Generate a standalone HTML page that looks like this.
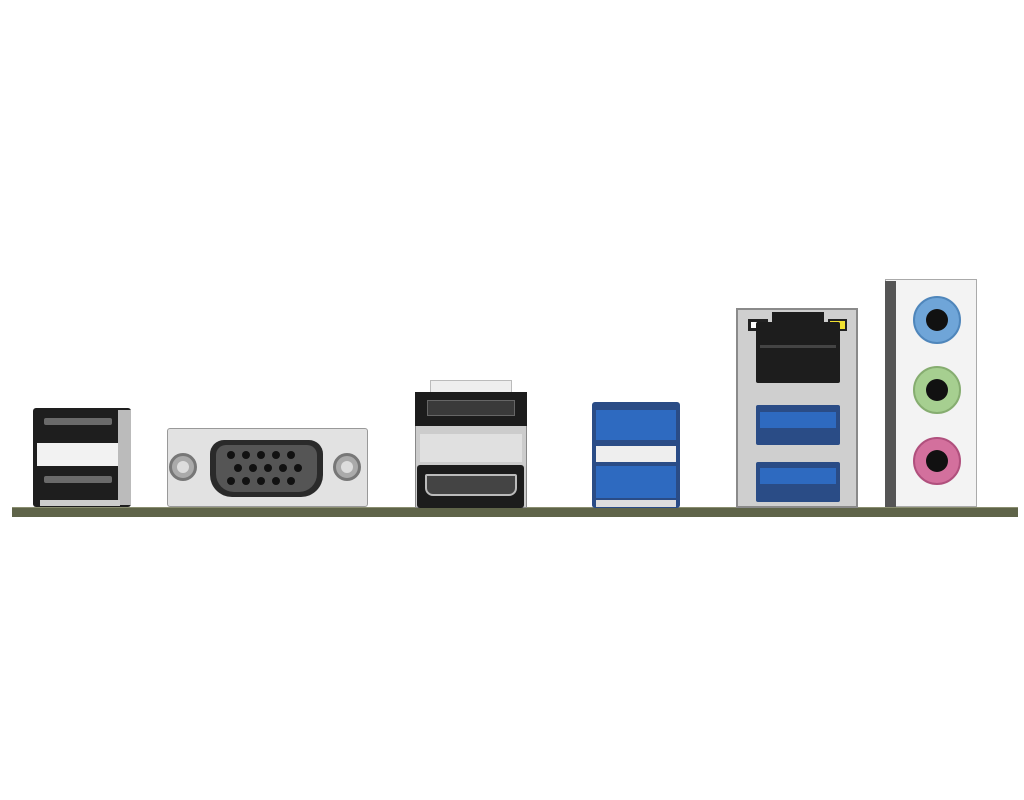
<!DOCTYPE html><html><head><style>
body{margin:0;width:1024px;height:800px;background:#fff;position:relative;overflow:hidden;font-family:"Liberation Sans",sans-serif}
div{position:absolute;box-sizing:border-box}
.pin{width:8px;height:8px;border-radius:50%;background:#111}
</style></head><body>
<!-- PCB -->
<div style="left:12px;top:507px;width:1006px;height:10px;background:#5f6449;border-top:1px solid #8a8e70"></div>

<!-- USB2 stack -->
<div style="left:33px;top:408px;width:98px;height:99px;background:#1e1e1e;border-radius:3px"></div>
<div style="left:118px;top:410px;width:13px;height:95px;background:#bbb"></div>
<div style="left:37px;top:443px;width:81px;height:23px;background:#f2f2f2"></div>
<div style="left:44px;top:418px;width:68px;height:7px;background:#6a6a6a;border-radius:2px"></div>
<div style="left:44px;top:476px;width:68px;height:7px;background:#6a6a6a;border-radius:2px"></div>
<div style="left:40px;top:500px;width:80px;height:6px;background:#ccc"></div>

<!-- VGA -->
<div style="left:167px;top:428px;width:201px;height:79px;background:#e2e2e2;border:1px solid #999;border-radius:3px"></div>
<div style="left:169px;top:453px;width:28px;height:28px;border-radius:50%;background:#aaa;border:3px solid #777"></div>
<div style="left:177px;top:461px;width:12px;height:12px;border-radius:50%;background:#ddd"></div>
<div style="left:333px;top:453px;width:28px;height:28px;border-radius:50%;background:#aaa;border:3px solid #777"></div>
<div style="left:341px;top:461px;width:12px;height:12px;border-radius:50%;background:#ddd"></div>
<div style="left:210px;top:440px;width:113px;height:57px;background:#2a2a2a;border-radius:14px 14px 22px 22px"></div>
<div style="left:216px;top:445px;width:101px;height:47px;background:#555;border-radius:10px 10px 18px 18px"></div>
<div class="pin" style="left:227px;top:451px"></div><div class="pin" style="left:242px;top:451px"></div><div class="pin" style="left:257px;top:451px"></div><div class="pin" style="left:272px;top:451px"></div><div class="pin" style="left:287px;top:451px"></div>
<div class="pin" style="left:234px;top:464px"></div><div class="pin" style="left:249px;top:464px"></div><div class="pin" style="left:264px;top:464px"></div><div class="pin" style="left:279px;top:464px"></div><div class="pin" style="left:294px;top:464px"></div>
<div class="pin" style="left:227px;top:477px"></div><div class="pin" style="left:242px;top:477px"></div><div class="pin" style="left:257px;top:477px"></div><div class="pin" style="left:272px;top:477px"></div><div class="pin" style="left:287px;top:477px"></div>

<!-- DP/HDMI -->
<div style="left:430px;top:380px;width:82px;height:14px;background:#eee;border:1px solid #bbb"></div>
<div style="left:415px;top:392px;width:112px;height:116px;background:#ccc;border:1px solid #888"></div>
<div style="left:415px;top:392px;width:112px;height:34px;background:#1c1c1c"></div>
<div style="left:427px;top:400px;width:88px;height:16px;background:#3a3a3a;border:1px solid #666"></div>
<div style="left:420px;top:434px;width:102px;height:28px;background:#e0e0e0"></div>
<div style="left:417px;top:465px;width:107px;height:43px;background:#1c1c1c;border-radius:3px"></div>
<div style="left:425px;top:474px;width:92px;height:22px;background:#444;border:2px solid #bbb;border-radius:2px 2px 8px 8px"></div>

<!-- Blue USB3 stack -->
<div style="left:592px;top:402px;width:88px;height:106px;background:#2a4c86;border-radius:3px"></div>
<div style="left:596px;top:410px;width:80px;height:30px;background:#2e6ac0"></div>
<div style="left:596px;top:446px;width:80px;height:16px;background:#eee"></div>
<div style="left:596px;top:466px;width:80px;height:32px;background:#2e6ac0"></div>
<div style="left:596px;top:500px;width:80px;height:7px;background:#ddd"></div>

<!-- LAN + USB3 -->
<div style="left:736px;top:308px;width:122px;height:200px;background:#cfcfcf;border:2px solid #8a8a8a"></div>
<div style="left:748px;top:319px;width:20px;height:12px;background:#222"></div>
<div style="left:751px;top:322px;width:6px;height:6px;background:#fff"></div><div style="left:759px;top:322px;width:6px;height:6px;background:#fff"></div>
<div style="left:828px;top:319px;width:19px;height:12px;background:#222"></div>
<div style="left:830px;top:321px;width:15px;height:8px;background:#f0e030"></div>
<div style="left:756px;top:322px;width:84px;height:61px;background:#1d1d1d;border-radius:2px"></div>
<div style="left:772px;top:312px;width:52px;height:14px;background:#1d1d1d"></div>
<div style="left:760px;top:345px;width:76px;height:3px;background:#444"></div>
<div style="left:756px;top:405px;width:84px;height:40px;background:#2a4c86;border-radius:2px"></div>
<div style="left:760px;top:412px;width:76px;height:16px;background:#2e6ac0"></div>
<div style="left:756px;top:462px;width:84px;height:40px;background:#2a4c86;border-radius:2px"></div>
<div style="left:760px;top:468px;width:76px;height:16px;background:#2e6ac0"></div>

<!-- Audio -->
<div style="left:885px;top:279px;width:92px;height:228px;background:#f3f3f3;border:1px solid #aaa"></div>
<div style="left:885px;top:281px;width:11px;height:226px;background:#555"></div>
<div style="left:913px;top:296px;width:48px;height:48px;border-radius:50%;background:#6fa5d8;border:2px solid #4f86bb"></div>
<div style="left:926px;top:309px;width:22px;height:22px;border-radius:50%;background:#111"></div>
<div style="left:913px;top:366px;width:48px;height:48px;border-radius:50%;background:#a6cf90;border:2px solid #86ad70"></div>
<div style="left:926px;top:379px;width:22px;height:22px;border-radius:50%;background:#111"></div>
<div style="left:913px;top:437px;width:48px;height:48px;border-radius:50%;background:#d3709d;border:2px solid #b0507d"></div>
<div style="left:926px;top:450px;width:22px;height:22px;border-radius:50%;background:#111"></div>
</body></html>
